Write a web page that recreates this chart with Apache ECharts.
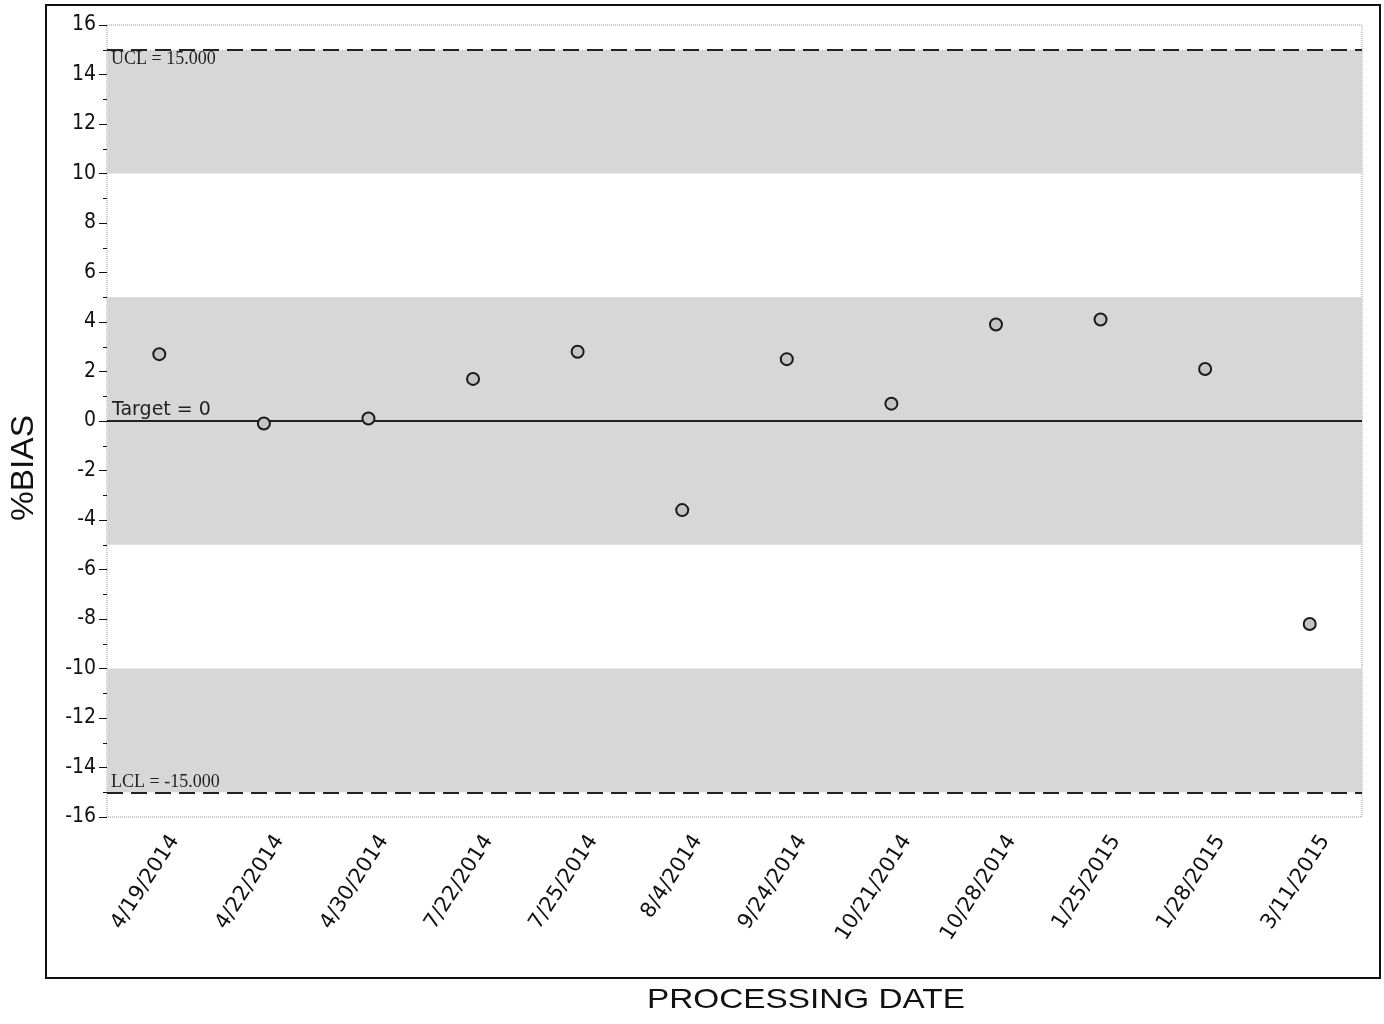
<!DOCTYPE html>
<html><head><meta charset="utf-8">
<script src="https://cdn.jsdelivr.net/npm/echarts@6/dist/echarts.min.js"></script>
<style>html,body{margin:0;padding:0;background:#fff}#c{width:1384px;height:1024px}</style>
</head><body><div id="c"></div>
<script>
const categories = ['4/19/2014','4/22/2014','4/30/2014','7/22/2014','7/25/2014','8/4/2014','9/24/2014','10/21/2014','10/28/2014','1/25/2015','1/28/2015','3/11/2015'];
const biasValues = [2.7, -0.1, 0.1, 1.7, 2.8, -3.6, 2.5, 0.7, 3.9, 4.1, 2.1, -8.2];
const yTicks = {min: -16, max: 16, interval: 2};
const ucl = 15, lcl = -15, target = 0;
const bands = [[10, 15], [-5, 5], [-15, -10]];
const xTitle = 'PROCESSING DATE';
const yTitle = '%BIAS';

const chart = echarts.init(document.getElementById('c'));
chart.setOption({
  animation: false,
  backgroundColor: '#fff',
  graphic: [
    {type: 'rect', shape: {x: 46, y: 5, width: 1334, height: 973}, style: {fill: 'none', stroke: '#111', lineWidth: 2}, z: -1},
    {type: 'text', x: 806, y: 1000, scaleX: 1.19, style: {text: xTitle, fontFamily: 'Liberation Sans', fontSize: 28, fill: '#111', align: 'center', verticalAlign: 'middle'}},
    {type: 'text', x: 24, y: 468, rotation: Math.PI / 2, scaleX: 1.08, style: {text: yTitle, fontFamily: 'Liberation Sans', fontSize: 31, fill: '#111', align: 'center', verticalAlign: 'middle'}}
  ],
  grid: {left: 107, right: 22, top: 25, bottom: 207, containLabel: false, outerBoundsMode: 'none', show: true, borderColor: '#999', borderWidth: 1, borderType: 'dotted'},
  xAxis: {
    type: 'category', data: categories, boundaryGap: true,
    axisLine: {show: false},
    axisTick: {show: true, alignWithLabel: true, length: 7, lineStyle: {color: '#111'}},
    axisLabel: {rotate: 57, fontFamily: 'DejaVu Sans', fontSize: 21, color: '#111', margin: 10, verticalAlign: 'top', padding: [8, 0, 0, 0]},
    splitLine: {show: false}
  },
  yAxis: {
    type: 'value', min: yTicks.min, max: yTicks.max, interval: yTicks.interval,
    axisLine: {show: false},
    axisTick: {show: true, length: 8, lineStyle: {color: '#111'}},
    minorTick: {show: true, splitNumber: 2, length: 4, lineStyle: {color: '#111'}},
    axisLabel: {fontFamily: 'DejaVu Sans Condensed, DejaVu Sans', fontSize: 21, color: '#111', margin: 11},
    splitLine: {show: false}
  },
  series: [{
    type: 'scatter', data: biasValues, symbol: 'circle', symbolSize: 12,
    itemStyle: {color: '#c4c4c4', borderColor: '#1a1a1a', borderWidth: 2, opacity: 1},
    z: 10,
    markArea: {
      silent: true,
      itemStyle: {color: '#d7d7d7'},
      data: bands.map(b => [{yAxis: b[1]}, {yAxis: b[0]}])
    },
    markLine: {
      silent: true, symbol: 'none',
      data: [
        {yAxis: ucl, lineStyle: {type: [16, 8], color: '#222', width: 2},
          label: {show: true, position: 'insideStartBottom', formatter: 'UCL = 15.000', fontFamily: 'Liberation Serif', fontSize: 18, color: '#222', distance: [4, 1]}},
        {yAxis: lcl, lineStyle: {type: [16, 8], color: '#222', width: 2},
          label: {show: true, position: 'insideStartTop', formatter: 'LCL = -15.000', fontFamily: 'Liberation Serif', fontSize: 18, color: '#222', distance: [4, 1]}},
        {yAxis: target, lineStyle: {type: 'solid', color: '#222', width: 2},
          label: {show: true, position: 'insideStartTop', formatter: 'Target = 0', fontFamily: 'DejaVu Sans', fontSize: 19, color: '#222', distance: [5, 1]}}
      ]
    }
  }]
});
</script></body></html>
